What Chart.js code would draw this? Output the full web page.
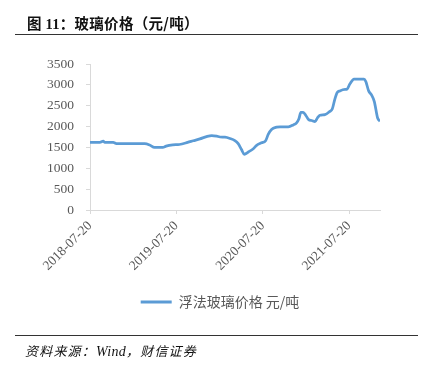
<!DOCTYPE html>
<html>
<head>
<meta charset="utf-8">
<script src="https://cdn.jsdelivr.net/npm/chart.js@4.4.1/dist/chart.umd.min.js"></script>
<style>
  html, body { margin: 0; padding: 0; background: #fff; }
  body { width: 426px; height: 368px; position: relative; overflow: hidden; }
  #wrap { position: absolute; left: 0; top: 0; width: 426px; height: 368px; }
  #title { position: absolute; left: 27px; top: 12px; font-family: "Noto Sans CJK SC", "Liberation Serif", serif; font-weight: 700; font-size: 14.5px; color: #111; white-space: nowrap; letter-spacing: 0.3px; }
  #title .num { font-family: "Liberation Serif", serif; font-weight: 700; }
  .rule { position: absolute; left: 15px; width: 403px; height: 1.5px; background: #333; }
  #source { position: absolute; left: 25px; top: 341px; font-family: "Noto Sans CJK SC", serif; font-style: italic; font-size: 13px; color: #111; white-space: nowrap; letter-spacing: 1.2px; }
  #source .lat { font-family: "Liberation Serif", serif; font-style: italic; font-size: 14px; letter-spacing: 0.3px; }
</style>
</head>
<body>
<div id="wrap"><canvas id="c" width="426" height="368"></canvas></div>
<div id="title">图 <span class="num">11</span>：玻璃价格（元/吨）</div>
<div class="rule" style="top:33.5px"></div>
<div class="rule" style="top:334.5px"></div>
<div id="source">资料来源：<span class="lat">Wind</span>，财信证券</div>
<script>
const seriesName = '浮法玻璃价格 元/吨';
const dates = [
'2018-07-20','2018-08-31','2018-09-14','2018-09-21','2018-10-26','2018-11-09','2019-03-08','2019-03-29','2019-04-19','2019-05-24',
'2019-06-07','2019-07-05','2019-08-02','2019-09-06','2019-09-30','2019-10-28','2019-11-25','2019-12-17','2020-01-07','2020-01-21',
'2020-02-11','2020-03-03','2020-03-24','2020-04-07','2020-04-21','2020-05-03','2020-05-20','2020-06-10','2020-06-24','2020-07-15',
'2020-08-01','2020-08-12','2020-08-26','2020-09-17','2020-10-01','2020-11-05','2020-11-26','2020-12-10','2020-12-20','2020-12-28',
'2021-01-07','2021-01-19','2021-01-30','2021-02-12','2021-02-26','2021-03-08','2021-03-19','2021-04-09','2021-04-30','2021-05-10',
'2021-05-21','2021-05-31','2021-06-11','2021-07-03','2021-07-10','2021-07-24','2021-08-10','2021-09-21','2021-09-29','2021-10-11',
'2021-10-23','2021-11-04','2021-11-18','2021-11-28'];
const prices = [
1620,1620,1650,1620,1620,1590,1590,1560,1500,1500,
1530,1560,1570,1620,1660,1705,1760,1785,1770,1750,
1745,1715,1665,1590,1450,1335,1390,1470,1550,1610,
1660,1810,1930,1985,1995,1995,2040,2090,2185,2340,
2340,2260,2165,2145,2120,2205,2270,2285,2365,2420,
2660,2815,2855,2890,2890,3025,3140,3140,3080,2855,
2760,2600,2205,2125];
const tickLabels = ['2018-07-20','2019-07-20','2020-07-20','2021-07-20'];
const yTicks = [0,500,1000,1500,2000,2500,3000,3500];

const DAY = 86400000;
const t0 = Date.parse(dates[0]);
const toDay = s => Math.round((Date.parse(s) - t0) / DAY);
const points = dates.map((d, i) => ({ x: toDay(d), y: prices[i] }));
const tickDays = tickLabels.map(toDay);

const axisColor = '#d9d9d9';
const labelColor = '#595959';
const blue = '#5B9BD5';

const shiftLegend = {
  id: 'shiftLegend',
  afterLayout(chart) {
    const lg = chart.legend;
    if (lg) { lg.left += 20; lg.right += 20; }
  }
};

new Chart(document.getElementById('c'), {
  type: 'line',
  data: {
    datasets: [{
      label: seriesName,
      data: points,
      borderColor: blue,
      backgroundColor: blue,
      borderWidth: 2.75,
      pointRadius: 0,
      cubicInterpolationMode: 'monotone',
      fill: false
    }]
  },
  plugins: [shiftLegend],
  options: {
    responsive: false,
    animation: false,
    layout: { padding: { left: 20, right: 46, top: 64, bottom: 49 } },
    plugins: {
      tooltip: { enabled: false },
      legend: {
        position: 'bottom',
        labels: {
          boxWidth: 31,
          boxHeight: 3,
          padding: 10,
          color: labelColor,
          font: { family: '"Noto Sans CJK SC", serif', size: 14 },
          generateLabels: chart => Chart.defaults.plugins.legend.labels.generateLabels(chart).map(l => Object.assign(l, { lineWidth: 0 }))
        }
      }
    },
    scales: {
      x: {
        type: 'linear',
        min: 0,
        max: toDay(dates[dates.length - 1]),
        afterBuildTicks: s => { s.ticks = tickDays.map(v => ({ value: v })); },
        afterFit: s => { s.height = 75; },
        grid: { display: true, drawOnChartArea: false, drawTicks: true, tickLength: 4, color: axisColor },
        border: { display: true, color: axisColor, width: 1 },
        ticks: {
          autoSkip: false,
          minRotation: 45,
          maxRotation: 45,
          padding: 4,
          color: labelColor,
          font: { family: '"Liberation Serif", serif', size: 13.5 },
          callback: v => { const i = tickDays.indexOf(v); return i >= 0 ? tickLabels[i] : ''; }
        }
      },
      y: {
        min: 0,
        max: 3500,
        afterBuildTicks: s => { s.ticks = yTicks.map(v => ({ value: v })); },
        afterFit: s => { s.width = 70; },
        grid: { display: true, drawOnChartArea: false, drawTicks: true, tickLength: 4, color: axisColor },
        border: { display: true, color: axisColor, width: 1 },
        ticks: {
          padding: 12,
          color: labelColor,
          font: { family: '"Liberation Serif", serif', size: 13.5 },
          callback: v => String(v)
        }
      }
    }
  }
});
</script>
</body>
</html>
